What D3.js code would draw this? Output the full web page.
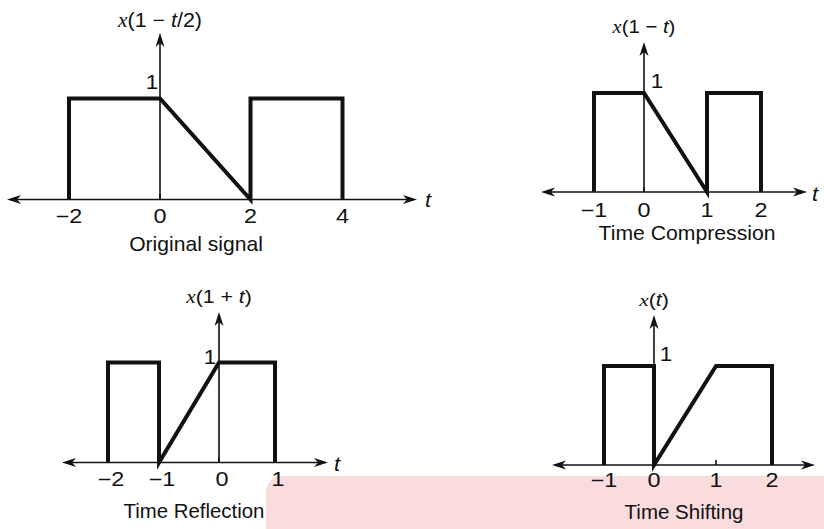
<!DOCTYPE html>
<html>
<head>
<meta charset="utf-8">
<script src="https://cdn.jsdelivr.net/npm/d3@7"></script>
<style>
  body { margin: 0; background: #fff; }
  svg { display: block; }
  text { font-family: "Liberation Sans", Arial, sans-serif; fill: #111; }
  .axis { stroke: #111; stroke-width: 1.6; fill: none; }
  .signal { stroke: #111; stroke-width: 4; fill: none; stroke-linejoin: miter; }
  .arrow { fill: #111; }
</style>
</head>
<body>
<svg id="chart"></svg>
<script>
var width = 824,
    height = 529;

// signal breakpoints (t, amplitude) for each panel
var tOriginal = [-2, -2, 0, 2, 2, 4, 4],
    aOriginal = [0, 1, 1, 0, 1, 1, 0];
var tCompress = [-1, -1, 0, 1, 1, 2, 2],
    aCompress = [0, 1, 1, 0, 1, 1, 0];
var tReflect = [-2, -2, -1, -1, 0, 1, 1],
    aReflect = [0, 1, 1, 0, 1, 1, 0];
var tShift = [-1, -1, 0, 0, 1, 2, 2],
    aShift = [0, 1, 1, 0, 1, 1, 0];

var ticksOriginal = [-2, 0, 2, 4],
    ticksCompress = [-1, 0, 1, 2],
    ticksReflect = [-2, -1, 0, 1],
    ticksShift = [-1, 0, 1, 2];

var panels = [
  { t: tOriginal, a: aOriginal, ticks: ticksOriginal,
    xr: [69, 160, 250.5, 342.5], y0: 199.5, y1: 98.5, ax: [7, 417], ayTop: 33,
    ylab: ["x", "(1 \u2212 ", "t", "/2)"], ylabY: 27, ylabSize: 20, ylabSx: 1.07,
    one: [152, 88], tlab: [428, 206], tickY: 222, tickDx: 0,
    caption: "Original signal", capX: 196, capY: 251, capSize: 20.5, capSx: 1.03 },
  { t: tCompress, a: aCompress, ticks: ticksCompress,
    xr: [594, 644, 707, 761], y0: 192, y1: 93, ax: [541, 807], ayTop: 42,
    ylab: ["x", "(1 \u2212 ", "t", ")"], ylabY: 33, ylabSize: 18.5, ylabSx: 1.1,
    one: [657, 87], tlab: [815, 200], tickY: 216, tickDx: 0,
    caption: "Time Compression", capX: 687, capY: 240, capSize: 20, capSx: 1.06 },
  { t: tReflect, a: aReflect, ticks: ticksReflect,
    xr: [108, 159, 219, 275], y0: 462.5, y1: 362.5, ax: [62, 328], ayTop: 312,
    ylab: ["x", "(1 + ", "t", ")"], ylabY: 303, ylabSize: 18.5, ylabSx: 1.15,
    one: [210, 363], tlab: [337, 470], tickY: 485, tickDx: 3,
    caption: "Time Reflection", capX: 194, capY: 518, capSize: 20, capSx: 1.02 },
  { t: tShift, a: aShift, ticks: ticksShift,
    xr: [604, 654, 716, 772], y0: 465, y1: 366, ax: [552, 815], ayTop: 315,
    ylab: ["x", "(", "t", ")"], ylabY: 306, ylabSize: 17.5, ylabSx: 1.22,
    one: [666, 360], tlab: null, tickY: 486, tickDx: 0,
    caption: "Time Shifting", capX: 684, capY: 519, capSize: 20.5, capSx: 1.0 }
];

var svg = d3.select("#chart")
            .attr("width", width)
            .attr("height", height);

// pink overlay box at the bottom right
svg.append("rect")
   .attr("x", 266).attr("y", 476)
   .attr("width", 600).attr("height", 100)
   .attr("rx", 16)
   .attr("fill", "#fadcde");

var arrow = function(g, x, y, dir) {
  // dir: "r", "l", "u"
  var L = 14, W = 4.5, N = 10, p;
  if (dir == "r") p = [[x, y], [x - L, y - W], [x - N, y], [x - L, y + W]];
  if (dir == "l") p = [[x, y], [x + L, y - W], [x + N, y], [x + L, y + W]];
  if (dir == "u") p = [[x, y], [x - W, y + L], [x, y + N], [x + W, y + L]];
  g.append("path").attr("class", "arrow").attr("d", "M" + p.join("L") + "Z");
};

var label = function(g, x, y, size, sx) {
  return g.append("text")
          .attr("transform", "translate(" + x + "," + y + ") scale(" + sx + ",1)")
          .attr("text-anchor", "middle")
          .style("font-size", size + "px");
};

var draw = function(p) {
  var g = svg.append("g");
  var x = d3.scaleLinear().domain(p.ticks).range(p.xr);
  var y = d3.scaleLinear().domain([0, 1]).range([p.y0, p.y1]);

  // axes
  g.append("line").attr("class", "axis")
   .attr("x1", p.ax[0] + 8).attr("x2", p.ax[1] - 8)
   .attr("y1", y(0)).attr("y2", y(0));
  g.append("line").attr("class", "axis")
   .attr("x1", x(0)).attr("x2", x(0))
   .attr("y1", y(0)).attr("y2", p.ayTop + 8);
  arrow(g, p.ax[0], y(0), "l");
  arrow(g, p.ax[1], y(0), "r");
  arrow(g, x(0), p.ayTop, "u");

  // tick marks
  g.selectAll("line.tick")
   .data(p.ticks)
   .enter().append("line")
     .attr("class", "axis tick")
     .attr("x1", function(d) { return x(d); })
     .attr("x2", function(d) { return x(d); })
     .attr("y1", y(0)).attr("y2", y(0) - 5);

  // tick labels
  p.ticks.forEach(function(d) {
    label(g, x(d) + p.tickDx, p.tickY + 1, 19.5, 1.2)
      .text(d < 0 ? "\u2212" + Math.abs(d) : d);
  });

  // signal
  var line = d3.line()
               .x(function(d, i) { return x(p.t[i]); })
               .y(function(d, i) { return y(p.a[i]); });
  g.append("path").attr("class", "signal").attr("d", line(p.t));

  // y axis label
  var yl = label(g, x(0), p.ylabY, p.ylabSize, p.ylabSx);
  yl.append("tspan").text(p.ylab[0])
    .style("font-family", "'Liberation Serif', 'Times New Roman', serif")
    .style("font-style", "italic");
  yl.append("tspan").text(p.ylab[1]);
  yl.append("tspan").text(p.ylab[2]).style("font-style", "italic");
  yl.append("tspan").text(p.ylab[3]);

  label(g, p.one[0], p.one[1] + 1, 20, 1.12).text("1");

  if (p.tlab) {
    label(g, p.tlab[0], p.tlab[1] + 1, 21, 1.05)
      .style("font-style", "italic").text("t");
  }

  label(g, p.capX, p.capY, p.capSize, p.capSx).text(p.caption);
};

panels.forEach(draw);
</script>
</body>
</html>
